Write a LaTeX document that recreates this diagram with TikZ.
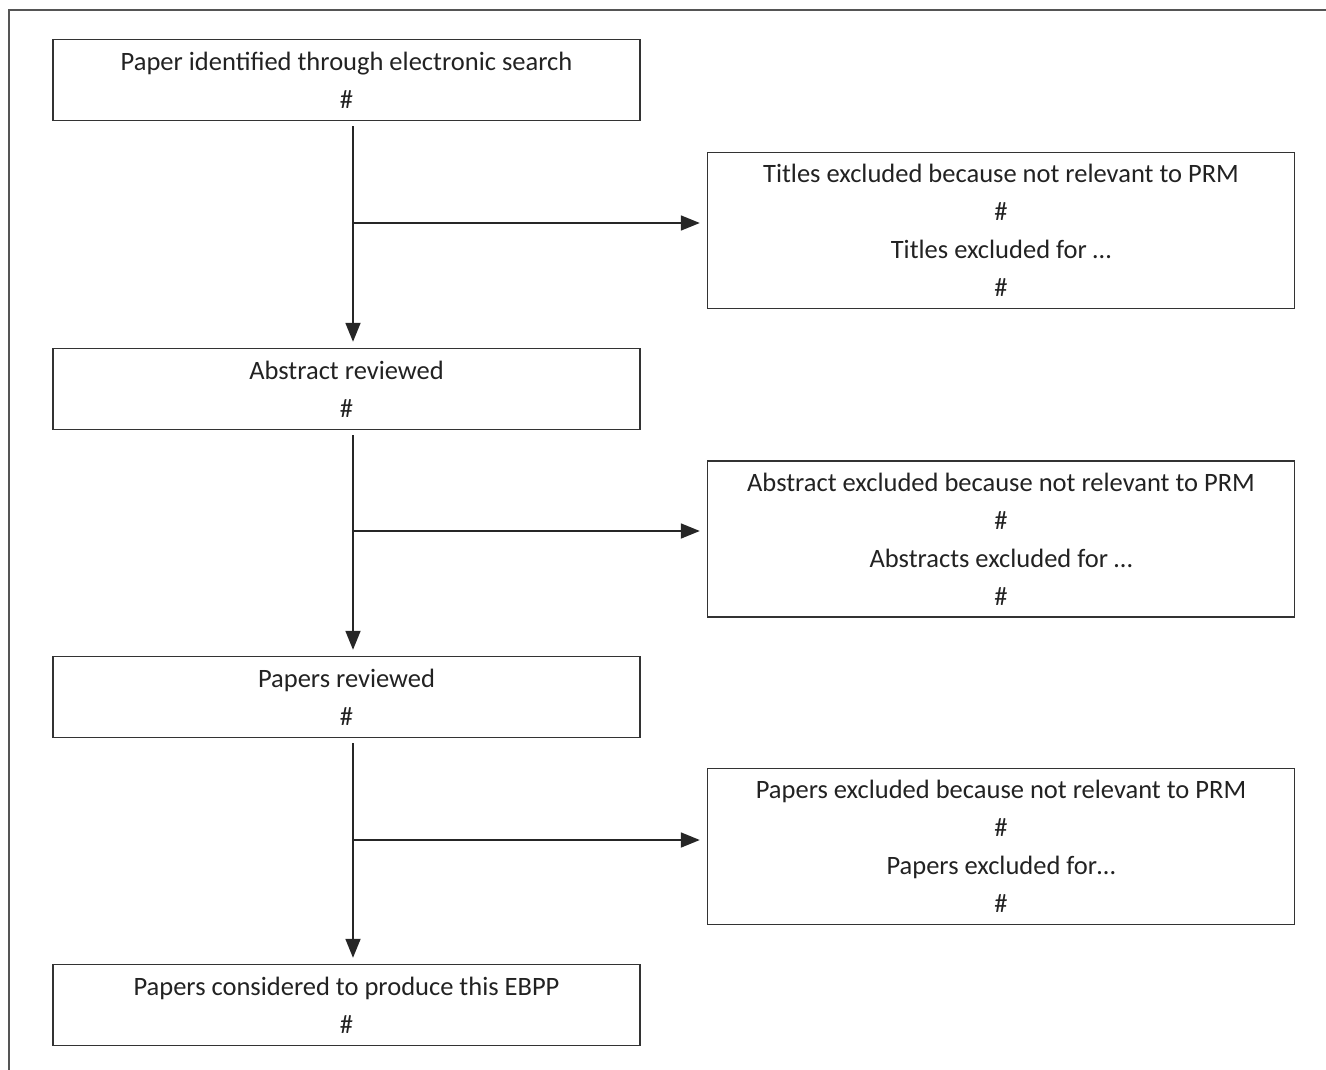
\documentclass[tikz,border=0pt]{standalone}
\usepackage{fontspec}
\setmainfont{Carlito}
\usetikzlibrary{arrows.meta}
\definecolor{boxline}{HTML}{333333}
\definecolor{frameline}{HTML}{555555}
\definecolor{txt}{HTML}{222222}
\begin{document}
\begin{tikzpicture}[x=1pt,y=-1pt,
  lbox/.style={draw=boxline,line width=1.4pt,rectangle,minimum width=587pt,minimum height=81pt,
    align=center,text=txt,font=\fontsize{26.5}{38}\selectfont,inner sep=0pt},
  rbox/.style={lbox,minimum height=156pt},
  arr/.style={draw=black!85,line width=1.8pt,-{Triangle[length=19pt,width=15pt]}}]
\useasboundingbox (0,0) rectangle (1326,1070);
\draw[frameline,line width=1.6pt] (9,1070) -- (9,10) -- (1326,10);
\node[lbox] (b1) at (346.5,80) {Paper identified through electronic search\\\#};
\node[lbox] (b2) at (346.5,389) {Abstract reviewed\\\#};
\node[lbox] (b3) at (346.5,697) {Papers reviewed\\\#};
\node[lbox] (b4) at (346.5,1005) {Papers considered to produce this EBPP\\\#};
\node[rbox] (r1) at (1001,230.5) {Titles excluded because not relevant to PRM\\\#\\Titles excluded for …\\\#};
\node[rbox] (r2) at (1001,539) {Abstract excluded because not relevant to PRM\\\#\\Abstracts excluded for …\\\#};
\node[rbox] (r3) at (1001,846.5) {Papers excluded because not relevant to PRM\\\#\\Papers excluded for…\\\#};
\coordinate (j1) at (353,223);
\coordinate (j2) at (353,531);
\coordinate (j3) at (353,840);
\draw[arr] ([xshift=6.5pt,yshift=-5pt]b1.south) -- ([xshift=6.5pt,yshift=6pt]b2.north);
\draw[arr] ([xshift=6.5pt,yshift=-5pt]b2.south) -- ([xshift=6.5pt,yshift=6pt]b3.north);
\draw[arr] ([xshift=6.5pt,yshift=-5pt]b3.south) -- ([xshift=6.5pt,yshift=6pt]b4.north);
\draw[arr] (j1) -- ([xshift=-7pt]j1 -| r1.west);
\draw[arr] (j2) -- ([xshift=-7pt]j2 -| r2.west);
\draw[arr] (j3) -- ([xshift=-7pt]j3 -| r3.west);
\end{tikzpicture}
\end{document}
